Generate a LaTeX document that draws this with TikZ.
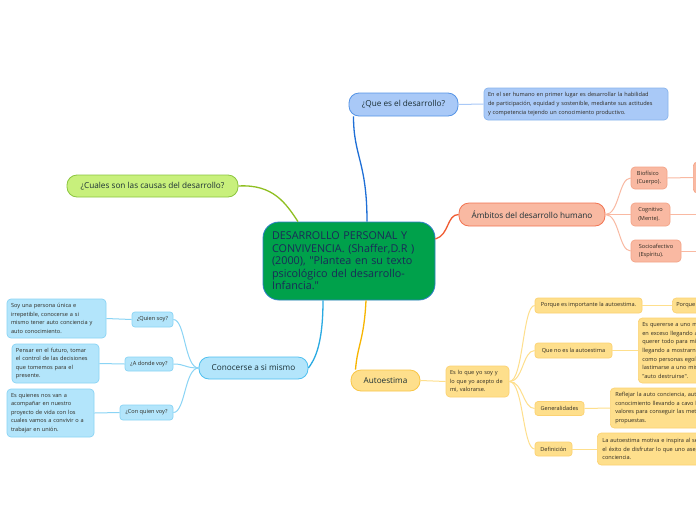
\documentclass[tikz,border=0pt]{standalone}
\usepackage{fontspec}
\setmainfont{Open Sans}[Ligatures=TeXOff]
\definecolor{txt}{HTML}{1B2F35}
\definecolor{ctxt}{HTML}{1A2A58}
\definecolor{stxt}{HTML}{2E2A22}
\definecolor{greenF}{HTML}{00A14B}
\definecolor{greenB}{HTML}{2E7FC8}
\definecolor{blueL}{HTML}{1F6FD6}
\definecolor{blueF}{HTML}{A9C9F7}
\definecolor{blueB}{HTML}{5594E6}
\definecolor{limeL}{HTML}{8FBF21}
\definecolor{limeF}{HTML}{C8F07C}
\definecolor{limeB}{HTML}{8CC63F}
\definecolor{salL}{HTML}{F05A30}
\definecolor{salF}{HTML}{F9B9A2}
\definecolor{salB}{HTML}{F27452}
\definecolor{salB2}{HTML}{F4A488}
\definecolor{cyL}{HTML}{2AAAE2}
\definecolor{cyF}{HTML}{B3E5FB}
\definecolor{cyB}{HTML}{4FC0F0}
\definecolor{cyB2}{HTML}{8AD4F5}
\definecolor{yeL}{HTML}{F7B500}
\definecolor{yeF}{HTML}{FEDF8C}
\definecolor{yeB}{HTML}{F9C646}
\definecolor{yeB2}{HTML}{FCD272}
\newcommand\fsm{\fontsize{5.6}{8.6}\selectfont}
\newcommand\fmd{\fontsize{8.2}{10}\selectfont}
\newcommand\fbg{\fontsize{10.8}{12.5}\selectfont}
\tikzset{
  title/.style={draw, line width=0.8pt, rounded corners=10pt, inner sep=0pt, align=center, font=\fmd, text=txt},
  small/.style={draw, line width=0.7pt, rounded corners=3pt, inner sep=0pt, align=center, font=\fsm, text=stxt},
  desc/.style={draw, line width=0.7pt, rounded corners=4pt, inner xsep=4pt, inner ysep=0pt, align=left, font=\fsm, text=stxt},
  mainc/.style={line width=1.3pt},
  subc/.style={line width=1pt}
}
\begin{document}
\begin{tikzpicture}[x=1pt,y=-1pt]
\useasboundingbox (0,0) rectangle (696,520);
\fill[white] (0,0) rectangle (696,520);
\clip (0,0) rectangle (696,520);

% central node
\node[draw=greenB, fill=greenF, line width=0.8pt, rounded corners=16pt, minimum width=172pt, minimum height=78pt, text width=154pt, inner xsep=9pt, align=left, font=\fbg, text=ctxt] (c) at (349,261)
  {DESARROLLO PERSONAL Y\\CONVIVENCIA. (Shaffer,D.R )\\(2000), "Plantea en su texto\\psicológico del desarrollo-\\Infancia."};

% Que es el desarrollo
\node[title, draw=blueB, fill=blueF, minimum width=109pt, minimum height=23pt] (que) at (403.5,104.5) {¿Que es el desarrollo?};
\node[desc, draw=blueB!70, fill=blueF, minimum width=184pt, minimum height=32pt, text width=176pt] (qued) at (576,104)
  {En el ser humano en primer lugar es desarrollar la habilidad\\de participación, equidad y sostenible, mediante sus actitudes\\y competencia tejendo un conocimiento productivo.};

% Ambitos
\node[title, draw=salB, fill=salF, minimum width=146pt, minimum height=23pt] (amb) at (532,214.5) {Ámbitos del desarrollo humano};
\node[desc, draw=salB2, fill=salF, minimum width=36pt, minimum height=22pt, inner xsep=3pt] (bio) at (649,178) {Biofísico\\(Cuerpo).};
\node[desc, draw=salB2, fill=salF, minimum width=39pt, minimum height=23pt, inner xsep=3pt] (cog) at (650.5,214.5) {Cognitivo\\(Mente).};
\node[desc, draw=salB2, fill=salF, minimum width=50pt, minimum height=22pt, inner xsep=3pt] (soc) at (656,251) {Socioafectivo\\(Espíritu).};
\node[desc, draw=salB2, fill=salF, minimum width=60pt, minimum height=31pt, anchor=west] (bior) at (693,177.5) {};
\coordinate (cogr) at (700,214.5);
\coordinate (socr) at (700,251);

% Cuales
\node[title, draw=limeB, fill=limeF, minimum width=171pt, minimum height=22pt] (cua) at (152.5,186) {¿Cuales son las causas del desarrollo?};

% Conocerse
\node[title, draw=cyB, fill=cyF, minimum width=109pt, minimum height=22pt] (con) at (253.5,368) {Conocerse a si mismo};
\node[small, draw=cyB2, fill=cyF, minimum width=41pt, minimum height=15pt] (qs) at (152.5,319.5) {¿Quien soy?};
\node[small, draw=cyB2, fill=cyF, minimum width=48pt, minimum height=14pt] (ad) at (149,364) {¿A donde voy?};
\node[small, draw=cyB2, fill=cyF, minimum width=53pt, minimum height=15pt] (cq) at (146.5,412.5) {¿Con quien voy?};
\node[desc, draw=cyB2, fill=cyF, minimum width=99pt, minimum height=39pt, text width=91pt] (qsd) at (56.5,318.5)
  {Soy una persona única e\\irrepetible, conocerse a si\\mismo tener auto conciencia y\\auto conocimiento.};
\node[desc, draw=cyB2, fill=cyF, minimum width=87pt, minimum height=39pt, text width=79pt] (add) at (55.5,363.5)
  {Pensar en el futuro, tomar\\el control de las decisiones\\que tomemos para el\\presente.};
\node[desc, draw=cyB2, fill=cyF, minimum width=87pt, minimum height=48pt, text width=79pt] (cqd) at (50.5,413)
  {Es quienes nos van a\\acompañar en nuestro\\proyecto de vida con los\\cuales vamos a convivir o a\\trabajar en unión.};

% Autoestima
\node[title, draw=yeB, fill=yeF, minimum width=69pt, minimum height=21pt] (aut) at (385.5,380.5) {Autoestima};
\node[desc, draw=yeB2, fill=yeF, minimum width=63pt, minimum height=31pt, text width=55pt] (es) at (477.5,381.5)
  {Es lo que yo soy y\\lo que yo acepto de\\mi, valorarse.};
\node[small, draw=yeB2, fill=yeF, minimum width=107pt, minimum height=15pt] (pq) at (588.5,305.5) {Porque es importante la autoestima.};
\node[desc, draw=yeB2, fill=yeF, minimum width=80pt, minimum height=15pt, text width=72pt, anchor=west] (pq2) at (672,305.5) {Porque};
\node[small, draw=yeB2, fill=yeF, minimum width=77pt, minimum height=15pt] (qn) at (573.5,350.5) {Que no es la autoestima};
\node[desc, draw=yeB2, fill=yeF, minimum width=100pt, minimum height=65pt, text width=92pt, anchor=west, inner xsep=3.5pt] (qnd) at (638,350.5)
  {Es quererse a uno mismo\\en exceso llegando a\\querer todo para mí\\llegando a mostrarnos\\como personas egoístas\\lastimarse a uno mismo\\"auto destruirse".};
\node[small, draw=yeB2, fill=yeF, minimum width=49pt, minimum height=14pt] (gen) at (559.5,408.5) {Generalidades};
\node[desc, draw=yeB2, fill=yeF, minimum width=140pt, minimum height=40pt, text width=130pt, anchor=west] (gend) at (610,408)
  {Reflejar la auto conciencia, auto\\conocimiento llevando a cavo los\\valores para conseguir las metas\\propuestas.};
\node[small, draw=yeB2, fill=yeF, minimum width=37pt, minimum height=14pt] (def) at (553.5,449) {Definición};
\node[desc, draw=yeB2, fill=yeF, minimum width=150pt, minimum height=32pt, text width=140pt, anchor=west] (defd) at (597,449)
  {La autoestima motiva e inspira al ser a\\el éxito de disfrutar lo que uno asegura\\conciencia.};

% main connectors
\draw[mainc, blueL] ([xshift=18pt]c.north) .. controls +(0,-60) and +(0,40) .. ([xshift=-50pt]que.south);
\draw[mainc, salL] ([yshift=22pt]c.east) .. controls +(14,-4) and +(-12,0) .. (amb.west);
\draw[mainc, limeL] (cua.east) .. controls +(35,-2) and +(-12,-18) .. ([xshift=-51pt]c.north);
\draw[mainc, cyL] ([xshift=-26pt]c.south) .. controls +(0,45) and +(6,-8) .. (con.east);
\draw[mainc, yeL] ([xshift=17pt]c.south) .. controls +(-2,40) and +(2,-25) .. ([xshift=-30pt]aut.north);

% sub connectors
\draw[subc, blueF] (que.east) -- (qued.west);
\foreach \n in {bio,cog,soc}
  \draw[subc, salF] (amb.east) .. controls +(14,0) and +(-12,0) .. (\n.west);
\draw[subc, salF] (bio.east) -- (bior.west);
\draw[subc, salF] (cog.east) -- (cogr);
\draw[subc, salF] (soc.east) -- (socr);
\foreach \n in {qs,ad,cq}
  \draw[subc, cyB2] (con.west) .. controls +(-14,0) and +(12,0) .. (\n.east);
\draw[subc, cyB2] (qs.west) -- (qsd.east);
\draw[subc, cyB2] (ad.west) -- (add.east);
\draw[subc, cyB2] (cq.west) -- (cqd.east);
\draw[subc, yeF] (aut.east) -- (es.west);
\foreach \n in {pq,qn,gen,def}
  \draw[subc, yeF] (es.east) .. controls +(14,0) and +(-12,0) .. (\n.west);
\draw[subc, yeF] (pq.east) -- (pq2.west);
\draw[subc, yeF] (qn.east) -- (qnd.west);
\draw[subc, yeF] (gen.east) -- (gend.west);
\draw[subc, yeF] (def.east) -- (defd.west);
\end{tikzpicture}
\end{document}
